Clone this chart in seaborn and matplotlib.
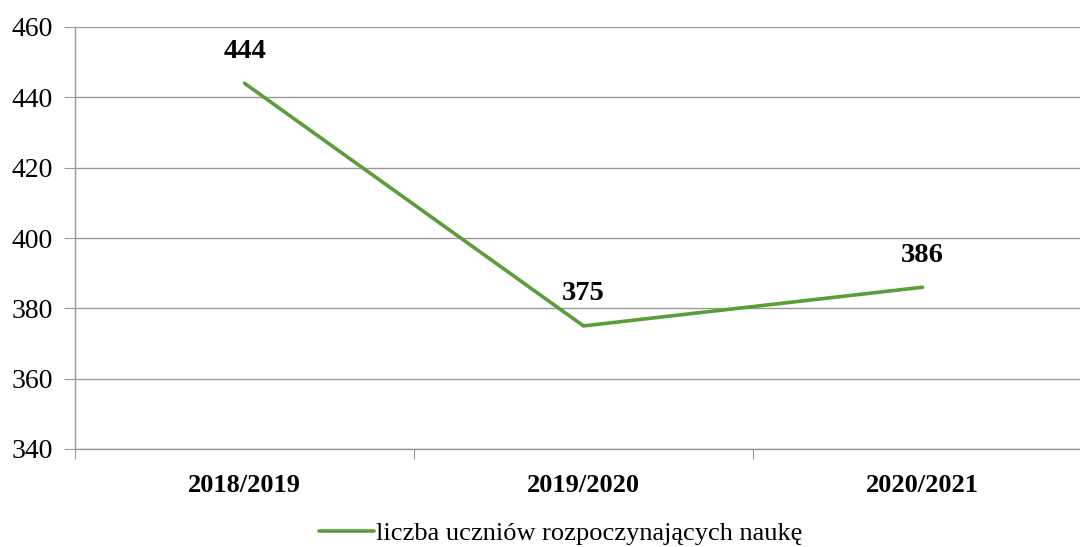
import matplotlib
matplotlib.use('Agg')
import matplotlib.pyplot as plt
import seaborn as sns
import pandas as pd

# dane
lata = ['2018/2019', '2019/2020', '2020/2021']
uczniowie = [444, 375, 386]
nazwa_serii = 'liczba uczniów rozpoczynających naukę'

df = pd.DataFrame({'rok': lata, 'liczba': uczniowie})

sns.set_style('white')
plt.rcParams['font.family'] = ['Liberation Serif', 'DejaVu Serif']
plt.rcParams['text.color'] = 'black'
plt.rcParams['xtick.color'] = 'black'
plt.rcParams['ytick.color'] = 'black'

fig = plt.figure(figsize=(10.8, 5.47), dpi=100)
ax = fig.add_axes([75 / 1080, 1 - 449 / 547, 1017 / 1080, 422 / 547])

x = list(range(len(lata)))
sns.lineplot(x=x, y=df['liczba'], color='#5a9e3a', linewidth=2.6, ax=ax,
             label=nazwa_serii, legend=False)

ax.set_xlim(-0.5, 2.5)
ax.set_ylim(340, 460)
ax.set_yticks(range(340, 461, 20))
ax.yaxis.grid(True, color='#999999', linewidth=1)
ax.set_axisbelow(True)

# etykiety kategorii i znaczniki między nimi
ax.set_xticks([-0.5, 0.5, 1.5, 2.5])
ax.set_xticklabels([])
ax.set_xticks(x, minor=True)
ax.set_xticklabels(lata, minor=True, fontsize=19, fontweight='bold')
ax.tick_params(axis='x', which='major', length=7, color='#999999', direction='out', bottom=True)
ax.tick_params(axis='x', which='minor', length=0, pad=18)
ax.tick_params(axis='y', length=8, color='#999999', direction='out', left=True,
               labelsize=20, pad=8)

for s in ['top', 'right']:
    ax.spines[s].set_visible(False)
for s in ['left', 'bottom']:
    ax.spines[s].set_color('#999999')
    ax.spines[s].set_linewidth(1)

ax.set_xlabel('')
ax.set_ylabel('')

for xi, v in zip(x, uczniowie):
    ax.annotate(str(v), (xi, v), xytext=(0, 14), textcoords='offset points',
                ha='center', va='bottom', fontsize=20.5, fontweight='bold')

handles, labels = ax.get_legend_handles_labels()
fig.legend(handles, labels, loc='center', bbox_to_anchor=(0.519, 0.025),
           frameon=False, fontsize=19, handlelength=2.1, handletextpad=0.05)

fig.savefig('out.png', dpi=100)
